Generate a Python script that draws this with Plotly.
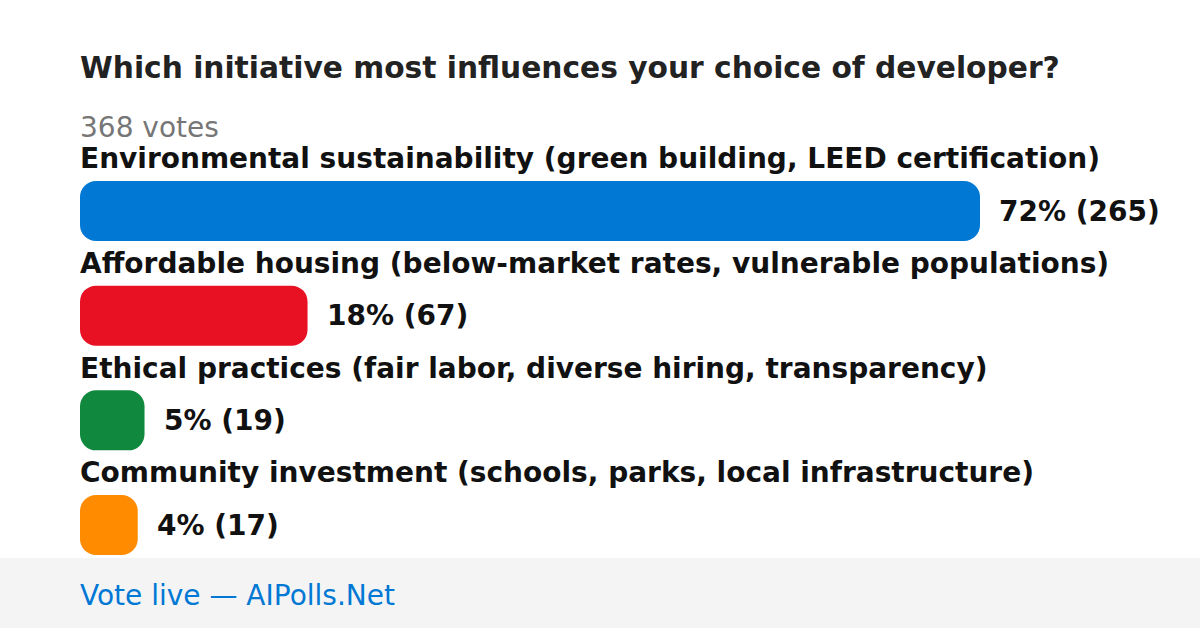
import plotly.graph_objects as go

title = "Which initiative most influences your choice of developer?"
total_votes = 368
categories = [
    "Environmental sustainability (green building, LEED certification)",
    "Affordable housing (below-market rates, vulnerable populations)",
    "Ethical practices (fair labor, diverse hiring, transparency)",
    "Community investment (schools, parks, local infrastructure)",
]
votes = [265, 67, 19, 17]
percents = [72, 18, 5, 4]
colors = ["#0078d4", "#e81123", "#10893e", "#ff8c00"]

W, H = 1200, 628
left = 80
max_bar_px = 900
row_px = 104.67
first_center = 211
bar_px = 60
radius = 16

idx = list(range(len(categories)))
x_max = max(votes) * (W - left) / max_bar_px

fig = go.Figure()
# explicit base -> plotly rounds both ends of the bar
fig.add_trace(go.Bar(
    x=votes, base=[0] * len(votes), y=idx, orientation="h",
    marker=dict(color=colors, cornerradius=radius, line=dict(width=0)),
    width=bar_px / row_px, hoverinfo="skip",
))

font = "DejaVu Sans"
ann = []
for i, (c, v, p) in enumerate(zip(categories, votes, percents)):
    ann.append(dict(x=0, y=i - 0.5, xref="x", yref="y", text=f"<b>{c}</b>",
                    showarrow=False, xanchor="left", yanchor="middle", xshift=-2,
                    font=dict(family=font, size=28, color="#111111")))
    ann.append(dict(x=v, y=i, xref="x", yref="y", text=f"<b>{p}% ({v})</b>",
                    showarrow=False, xanchor="left", yanchor="middle", xshift=17,
                    font=dict(family=font, size=28, color="#111111")))

ann.append(dict(x=0, y=1 - 68 / H, xref="paper", yref="paper", xshift=-2,
                text=f"<b>{title}</b>", showarrow=False, xanchor="left", yanchor="middle",
                font=dict(family=font, size=29.7, color="#222222")))
ann.append(dict(x=0, y=1 - 127 / H, xref="paper", yref="paper", xshift=-2,
                text=f"{total_votes} votes", showarrow=False, xanchor="left", yanchor="middle",
                font=dict(family=font, size=28, color="#767676")))
ann.append(dict(x=0, y=1 - 595 / H, xref="paper", yref="paper", xshift=-2,
                text="Vote live — AIPolls.Net", showarrow=False, xanchor="left", yanchor="middle",
                font=dict(family=font, size=28, color="#0078d4")))

y_top = -first_center / row_px
y_bot = (H - first_center) / row_px

fig.update_layout(
    width=W, height=H,
    margin=dict(l=left, r=0, t=0, b=0),
    paper_bgcolor="white", plot_bgcolor="white",
    showlegend=False,
    xaxis=dict(range=[0, x_max], visible=False, fixedrange=True),
    yaxis=dict(range=[y_bot, y_top], visible=False, fixedrange=True),
    annotations=ann,
    shapes=[dict(type="rect", xref="paper", yref="paper", x0=-1, x1=2,
                 y0=0, y1=70 / H, fillcolor="#f4f4f4", line=dict(width=0), layer="below")],
)
fig.write_html("out.html", config={"displayModeBar": False},
               post_script="document.body.style.margin='0';document.body.style.overflow='hidden';")
